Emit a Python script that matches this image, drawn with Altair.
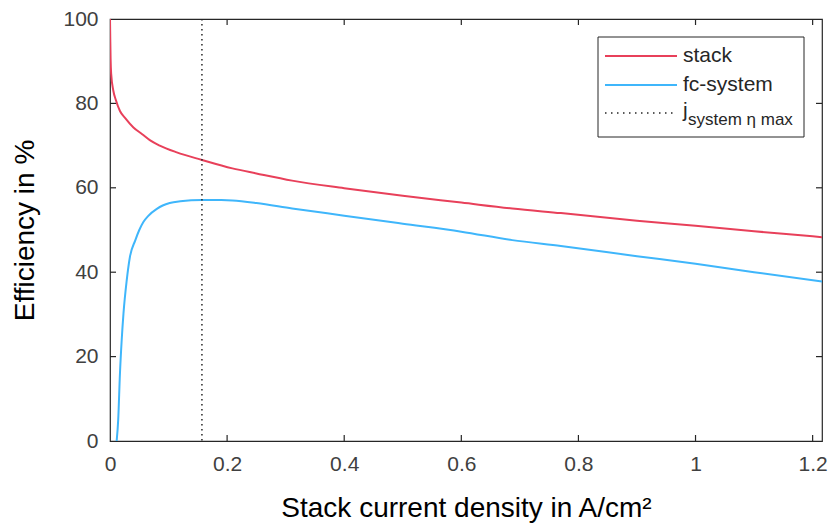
import altair as alt
import pandas as pd

# ---- data ----
stack_x = [0.0, 0.0005, 0.001, 0.002, 0.0057, 0.01, 0.017, 0.026, 0.04, 0.055,
           0.068, 0.085, 0.114, 0.157, 0.209, 0.25, 0.311, 0.4, 0.5, 0.6,
           0.687, 0.77, 0.9, 1.0, 1.1, 1.2, 1.216]
stack_y = [100.0, 95.0, 90.7, 87.0, 83.0, 80.8, 78.2, 76.5, 74.3, 72.7,
           71.3, 70.0, 68.4, 66.6, 64.6, 63.4, 61.7, 59.9, 58.1, 56.5,
           55.1, 54.0, 52.2, 51.0, 49.7, 48.5, 48.3]

sys_x = [0.0114, 0.014, 0.017, 0.020, 0.023, 0.0285, 0.034, 0.043, 0.05, 0.057,
         0.065, 0.08, 0.09, 0.102, 0.12, 0.157, 0.19, 0.209, 0.25, 0.311,
         0.4, 0.5, 0.6, 0.687, 0.77, 0.9, 1.0, 1.1, 1.216]
sys_y = [0.0, 5.0, 16.0, 24.0, 30.2, 38.0, 43.6, 47.5, 50.0, 51.9,
         53.3, 55.0, 55.8, 56.4, 56.8, 57.1, 57.1, 57.0, 56.4, 55.1,
         53.4, 51.5, 49.6, 47.6, 46.2, 43.8, 42.0, 40.0, 37.8]

j_max = [0.157]

series_names = ["stack", "fc-system"]
legend_third = ["j", "system \u03b7 max"]

x_ticks = [0, 0.2, 0.4, 0.6, 0.8, 1.0, 1.2]
y_ticks = [0, 20, 40, 60, 80, 100]

x_title = "Stack current density in A/cm\u00b2"
y_title = "Efficiency in %"

# ---- styling ----
RED = "#e8405a"
BLUE = "#3fb6fb"
AX = "#262626"
FONT = "Liberation Sans"
W, H = 712, 422
TL = 6
LW = 2

df = pd.concat([
    pd.DataFrame({"j": stack_x, "eta": stack_y, "series": series_names[0]}),
    pd.DataFrame({"j": sys_x, "eta": sys_y, "series": series_names[1]}),
])

xs = alt.Scale(domain=[0, 1.216], nice=False, zero=False)
ys = alt.Scale(domain=[0, 100], nice=False)

lines = alt.Chart(df).mark_line(strokeWidth=LW, clip=True, interpolate="monotone").encode(
    x=alt.X("j:Q", scale=xs,
            axis=alt.Axis(values=x_ticks, format="~g", title=x_title,
                          labelFlush=False, titleFontSize=28)),
    y=alt.Y("eta:Q", scale=ys,
            axis=alt.Axis(values=y_ticks, format="d", title=y_title,
                          labelFlush=False, titleFontSize=28)),
    color=alt.Color("series:N",
                    scale=alt.Scale(domain=series_names, range=[RED, BLUE]),
                    legend=None),
    detail="series:N",
)

vline = alt.Chart(pd.DataFrame({"j": j_max})).mark_rule(
    color=AX, strokeWidth=1.5, strokeDash=[1.5, 3.5]
).encode(x=alt.X("j:Q", scale=xs))

xt = pd.DataFrame({"j": x_ticks[1:]})
yt = pd.DataFrame({"eta": y_ticks[1:-1]})

tick_bottom = alt.Chart(xt).mark_rule(color=AX, strokeWidth=1.2).encode(
    x=alt.X("j:Q", scale=xs), y=alt.value(H), y2=alt.value(H - TL))
tick_top = alt.Chart(xt).mark_rule(color=AX, strokeWidth=1.2).encode(
    x=alt.X("j:Q", scale=xs), y=alt.value(0), y2=alt.value(TL))
tick_left = alt.Chart(yt).mark_rule(color=AX, strokeWidth=1.2).encode(
    y=alt.Y("eta:Q", scale=ys), x=alt.value(0), x2=alt.value(TL))
tick_right = alt.Chart(yt).mark_rule(color=AX, strokeWidth=1.2).encode(
    y=alt.Y("eta:Q", scale=ys), x=alt.value(W), x2=alt.value(W - TL))

# ---- legend (drawn by hand to allow the subscript) ----
one = pd.DataFrame({"a": [0]})
LX0, LX1, LY0, LY1 = 488, 694, 18, 118
box = alt.Chart(one).mark_rect(fill="white", stroke=AX, strokeWidth=1).encode(
    x=alt.value(LX0), x2=alt.value(LX1), y=alt.value(LY0), y2=alt.value(LY1))
rows_y = [37, 66, 94]
sx0, sx1, tx = 495, 567, 573
leg_l1 = alt.Chart(one).mark_rule(color=RED, strokeWidth=LW).encode(
    x=alt.value(sx0), x2=alt.value(sx1), y=alt.value(rows_y[0]))
leg_l2 = alt.Chart(one).mark_rule(color=BLUE, strokeWidth=LW).encode(
    x=alt.value(sx0), x2=alt.value(sx1), y=alt.value(rows_y[1]))
leg_l3 = alt.Chart(one).mark_rule(color=AX, strokeWidth=1.5, strokeDash=[1.5, 4.5]).encode(
    x=alt.value(sx0), x2=alt.value(sx1), y=alt.value(rows_y[2]))


def ltext(txt, x, y, size, dy=0):
    return alt.Chart(one).mark_text(
        align="left", baseline="middle", font=FONT, fontSize=size,
        color=AX, dy=dy
    ).encode(x=alt.value(x), y=alt.value(y), text=alt.value(txt))


leg_t1 = ltext(series_names[0], tx, rows_y[0], 21)
leg_t2 = ltext(series_names[1], tx, rows_y[1], 21)
leg_t3a = ltext(legend_third[0], tx, rows_y[2], 21, dy=-2)
leg_t3b = ltext(legend_third[1], tx + 5, rows_y[2], 17, dy=7)

chart = alt.layer(
    lines, vline, tick_bottom, tick_top, tick_left, tick_right,
    box, leg_l1, leg_l2, leg_l3, leg_t1, leg_t2, leg_t3a, leg_t3b,
).properties(
    width=W, height=H,
    autosize=alt.AutoSizeParams(type="none"),
    padding={"left": 110, "top": 19, "right": 9, "bottom": 85},
    background="white",
).configure_view(
    stroke=AX, strokeWidth=1.2
).configure_axis(
    domain=False, ticks=False, tickSize=0, grid=False,
    labelFont=FONT, labelFontSize=21, labelColor="#404040", labelPadding=12,
    titleFont=FONT, titleColor="black",
    titleFontWeight="normal",
).configure_axisY(titlePadding=23).configure_axisX(titlePadding=20)

chart.save("out.html", embed_options={"renderer": "svg", "actions": False})
